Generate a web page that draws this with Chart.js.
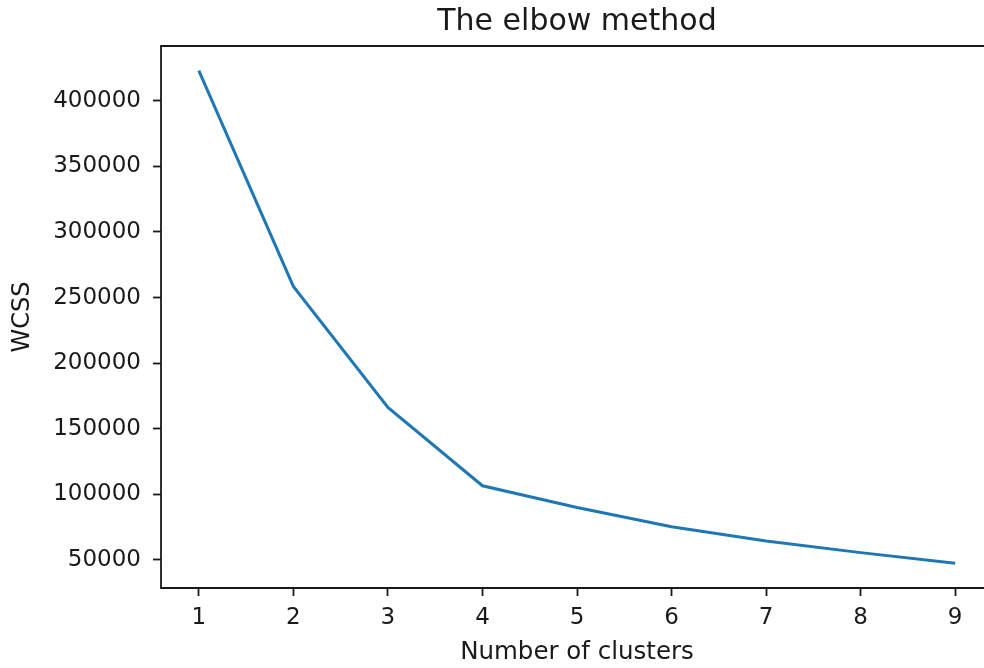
<!DOCTYPE html>
<html>
<head>
<meta charset="utf-8">
<title>The elbow method</title>
<script src="https://cdn.jsdelivr.net/npm/chart.js@4.4.1/dist/chart.umd.min.js"></script>
<style>
    html, body { margin: 0; padding: 0; background: #fff; overflow: hidden; }
    /* the plot runs a little past the right edge of the view */
    .chart-wrap { width: 984px; height: 668px; overflow: hidden; position: relative; }
    #elbowChart { display: block; position: absolute; left: 0; top: 0; }
</style>
</head>
<body>
<div class="chart-wrap">
    <canvas id="elbowChart" width="994" height="668"></canvas>
</div>
<script>
    'use strict';

    // Number of clusters and the within-cluster sum of squares for each
    const clusters = [1, 2, 3, 4, 5, 6, 7, 8, 9];
    const wcss = [423100, 258500, 166200, 106400, 89800, 75200, 64300, 55400, 47200];

    // Tick labels on both axes
    const xTicks = [1, 2, 3, 4, 5, 6, 7, 8, 9];
    const yTicks = [50000, 100000, 150000, 200000, 250000, 300000, 350000, 400000];

    const FONT = 'DejaVu Sans';
    const INK = '#1a1a1a';

    // Axis limits with a 5% margin around the data
    const yPad = (Math.max(...wcss) - Math.min(...wcss)) * 0.05;
    const yMin = Math.min(...wcss) - yPad;
    const yMax = Math.max(...wcss) + yPad;
    const xPad = (clusters[clusters.length - 1] - clusters[0]) * 0.05;

    // Draw the left, top and bottom edges of the plot box
    const frame = {
        id: 'frame',
        afterDraw(chart) {
            const a = chart.chartArea;
            const ctx = chart.ctx;
            ctx.save();
            ctx.strokeStyle = INK;
            ctx.lineWidth = 1.8;
            ctx.beginPath();
            ctx.moveTo(a.right, a.top);
            ctx.lineTo(a.left, a.top);
            ctx.lineTo(a.left, a.bottom);
            ctx.lineTo(a.right, a.bottom);
            ctx.stroke();
            ctx.restore();
        }
    };

    const config = {
        type: 'line',
        data: {
            datasets: [{
                data: clusters.map((c, i) => ({ x: c, y: wcss[i] })),
                borderColor: '#1f77b4',
                borderWidth: 3,
                pointRadius: 0,
                tension: 0,
                fill: false
            }]
        },
        options: {
            responsive: false,
            animation: false,
            layout: { padding: { left: 0, right: 1, top: 0, bottom: 0 } },
            plugins: {
                legend: { display: false },
                tooltip: { enabled: false },
                title: {
                    display: true,
                    fullSize: false,
                    text: 'The elbow method',
                    color: INK,
                    font: { family: FONT, size: 30, weight: 'normal' },
                    padding: { top: 4, bottom: 6 }
                }
            },
            scales: {
                x: {
                    type: 'linear',
                    min: clusters[0] - xPad,
                    max: clusters[clusters.length - 1] + xPad,
                    afterBuildTicks: (scale) => {
                        scale.ticks = xTicks.map(v => ({ value: v }));
                    },
                    afterFit: (scale) => { scale.height = 80; },
                    grid: {
                        drawOnChartArea: false,
                        tickLength: 8,
                        tickWidth: 1.8,
                        tickColor: INK
                    },
                    border: { display: false },
                    ticks: {
                        color: INK,
                        padding: 8,
                        maxRotation: 0,
                        autoSkip: false,
                        font: { family: FONT, size: 23 }
                    },
                    title: {
                        display: true,
                        text: 'Number of clusters',
                        color: INK,
                        font: { family: FONT, size: 24.5 },
                        padding: { top: 0, bottom: 1 }
                    }
                },
                y: {
                    min: yMin,
                    max: yMax,
                    afterBuildTicks: (scale) => {
                        scale.ticks = yTicks.map(v => ({ value: v }));
                    },
                    afterFit: (scale) => { scale.width = 161; },
                    grid: {
                        drawOnChartArea: false,
                        tickLength: 8,
                        tickWidth: 1.8,
                        tickColor: INK
                    },
                    border: { display: false },
                    ticks: {
                        color: INK,
                        padding: 12,
                        autoSkip: false,
                        font: { family: FONT, size: 23 },
                        callback: (value) => String(value)
                    },
                    title: {
                        display: true,
                        text: 'WCSS',
                        color: INK,
                        font: { family: FONT, size: 24 },
                        padding: { top: 8, bottom: 0 }
                    }
                }
            }
        },
        plugins: [frame]
    };

    new Chart(document.getElementById('elbowChart'), config);
</script>
</body>
</html>
